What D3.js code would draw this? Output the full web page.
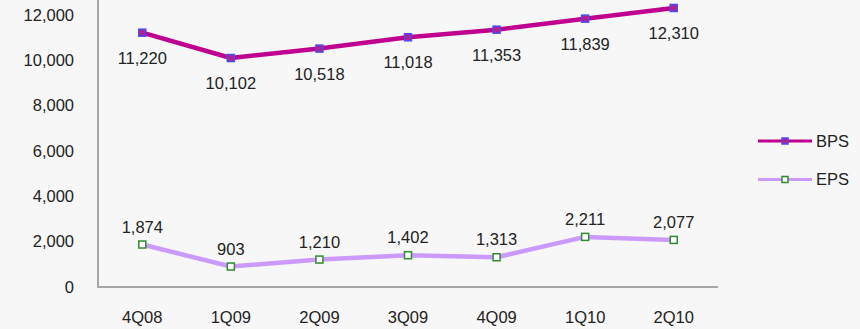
<!DOCTYPE html>
<html>
<head>
<meta charset="utf-8">
<script src="https://cdn.jsdelivr.net/npm/d3@7"></script>
<style>
  html, body { margin: 0; padding: 0; background: #f7f7f7; }
  svg { display: block; font-family: "Liberation Sans", Arial, sans-serif; }
</style>
</head>
<body>
<svg id="chart"></svg>
<script>
const width = 860, height = 329;

// Data
const quarters = ["4Q08", "1Q09", "2Q09", "3Q09", "4Q09", "1Q10", "2Q10"];
const bps = [11220, 10102, 10518, 11018, 11353, 11839, 12310];
const eps = [1874, 903, 1210, 1402, 1313, 2211, 2077];
const yTicks = [0, 2000, 4000, 6000, 8000, 10000, 12000];

const series = [
    { name: "BPS", values: bps, line: "#c0008f", marker: "#4a4af0", fill: "#b0208f", labelDy: 31 },
    { name: "EPS", values: eps, line: "#cc99ff", marker: "#2e8b2e", fill: "#ffffff", labelDy: -12 }
];

const svg = d3.select("#chart")
    .attr("width", width)
    .attr("height", height);

svg.append("rect")
    .attr("width", width)
    .attr("height", height)
    .attr("fill", "#f7f7f7");

// Scales
const xScale = d3.scaleBand().domain(quarters).range([98, 718]).padding(0);
const yScale = d3.scaleLinear().domain([0, 12000]).range([287, 15]);
const fmt = d3.format(",");

// Axis lines
svg.append("line")
    .attr("x1", 98).attr("x2", 98)
    .attr("y1", 0).attr("y2", yScale(0))
    .attr("stroke", "#a6a6a6").attr("stroke-width", 2);
svg.append("line")
    .attr("x1", 97).attr("x2", 718)
    .attr("y1", yScale(0)).attr("y2", yScale(0))
    .attr("stroke", "#a6a6a6").attr("stroke-width", 2);

// Y tick labels
svg.append("g")
    .selectAll("text")
    .data(yTicks)
    .enter()
    .append("text")
    .attr("x", 74)
    .attr("y", d => yScale(d))
    .attr("dy", "0.35em")
    .attr("text-anchor", "end")
    .attr("font-size", 16.5)
    .attr("fill", "#222")
    .text(d => fmt(d));

// X tick labels
svg.append("g")
    .selectAll("text")
    .data(quarters)
    .enter()
    .append("text")
    .attr("x", d => xScale(d) + xScale.bandwidth() / 2)
    .attr("y", 323)
    .attr("text-anchor", "middle")
    .attr("font-size", 16.5)
    .attr("fill", "#222")
    .text(d => d);

const cx = d => xScale(d) + xScale.bandwidth() / 2;

const lineGenerator = d3.line()
    .x(d => cx(d.q))
    .y(d => yScale(d.v));

series.forEach(s => {
    const pts = quarters.map((q, i) => ({ q: q, v: s.values[i] }));

    svg.append("path")
        .attr("d", lineGenerator(pts))
        .attr("fill", "none")
        .attr("stroke", s.line)
        .attr("stroke-width", 4.5)
        .attr("stroke-linejoin", "round");

    svg.append("g")
        .selectAll("rect")
        .data(pts)
        .enter()
        .append("rect")
        .attr("x", d => cx(d.q) - 3.5)
        .attr("y", d => yScale(d.v) - 3.5)
        .attr("width", 7)
        .attr("height", 7)
        .attr("fill", s.fill)
        .attr("stroke", s.marker)
        .attr("stroke-width", 1.5);

    svg.append("g")
        .selectAll("text")
        .data(pts)
        .enter()
        .append("text")
        .attr("x", d => cx(d.q))
        .attr("y", d => yScale(d.v) + s.labelDy)
        .attr("text-anchor", "middle")
        .attr("font-size", 16.5)
        .attr("fill", "#222")
        .text(d => fmt(d.v));
});

// Legend
const legend = svg.append("g");
series.forEach((s, i) => {
    const y = 141 + i * 38.5;
    legend.append("line")
        .attr("x1", 758).attr("x2", 812)
        .attr("y1", y).attr("y2", y)
        .attr("stroke", s.line)
        .attr("stroke-width", 3);
    legend.append("rect")
        .attr("x", 785 - 3).attr("y", y - 3)
        .attr("width", 6).attr("height", 6)
        .attr("fill", s.fill)
        .attr("stroke", s.marker)
        .attr("stroke-width", 1.5);
    legend.append("text")
        .attr("x", 816)
        .attr("y", y)
        .attr("dy", "0.35em")
        .attr("font-size", 16.5)
        .attr("fill", "#222")
        .text(s.name);
});
</script>
</body>
</html>
